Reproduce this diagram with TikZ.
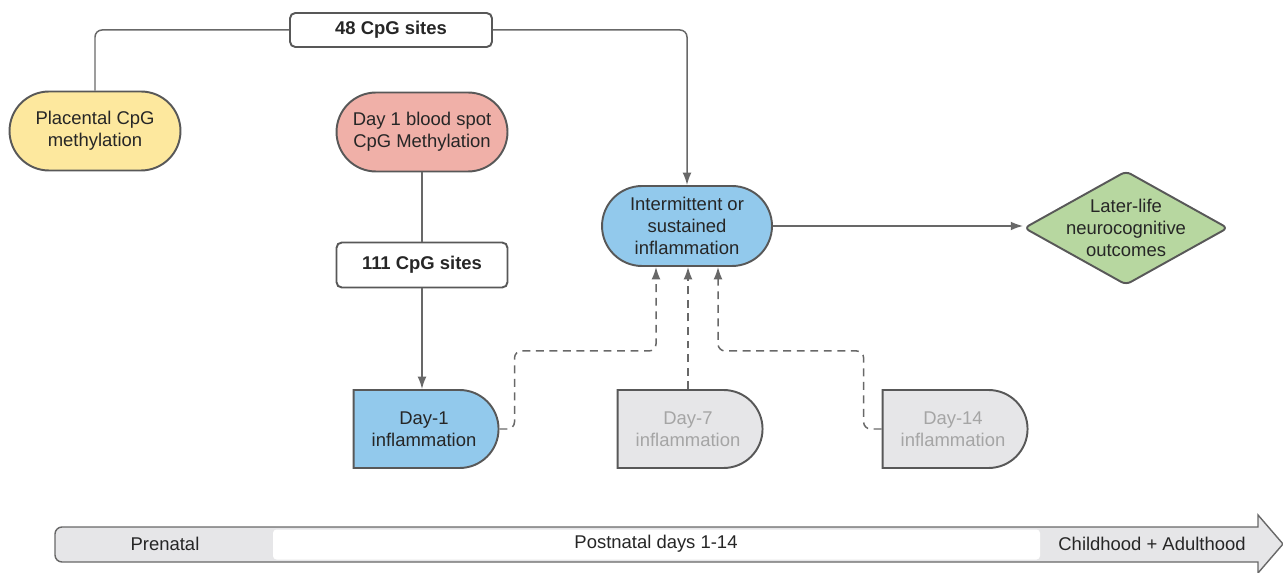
\documentclass[tikz,border=0pt]{standalone}
\usepackage{fontspec}
\setmainfont{Liberation Sans}
\usepackage{tikz}
\usetikzlibrary{arrows, arrows.meta, shapes, shapes.geometric, shapes.misc, positioning, calc}
\usepackage{xcolor}
\definecolor{edgegray}{RGB}{88,88,88}
\definecolor{linegray}{RGB}{104,104,104}
\definecolor{yellowfill}{RGB}{253,232,158}
\definecolor{pinkfill}{RGB}{240,176,168}
\definecolor{bluefill}{RGB}{146,201,236}
\definecolor{grayfill}{RGB}{230,230,232}
\definecolor{greenfill}{RGB}{183,215,160}
\definecolor{fadedtext}{RGB}{165,165,165}
\tikzset{
	stadium/.style={rounded rectangle, draw=edgegray, line width=1.1pt, align=center,
		minimum width=3.42cm, minimum height=1.58cm, inner sep=0pt, text=black!85},
	sitebox/.style={rectangle, rounded corners=3pt, draw=edgegray, line width=1.1pt,
		fill=white, minimum height=0.68cm, font=\bfseries, text=black!85},
	daybox/.style={rounded rectangle, rounded rectangle west arc=none, draw=edgegray,
		line width=1.1pt, align=center, minimum width=2.9cm, minimum height=1.56cm,
		inner sep=0pt, text=black!85},
	grayday/.style={daybox, fill=grayfill, text=fadedtext},
	outcome/.style={diamond, draw=edgegray, line width=1.1pt, fill=greenfill, align=center,
		aspect=1.79, minimum width=4.08cm, minimum height=2.28cm, inner sep=-4pt,
		rounded corners=3pt, text=black!85},
	era/.style={inner sep=0pt, text=black!85},
	line/.style={draw=linegray, line width=0.85pt, rounded corners=4pt, -{Latex[length=7pt,width=5pt]}},
	plain/.style={line, -},
	dashline/.style={line, dash pattern=on 4.5pt off 3.2pt}
}

\begin{document}
\fontsize{10.5}{12.5}\selectfont
\begin{tikzpicture}[x=0.02cm, y=-0.02cm]
	\useasboundingbox (0,0) rectangle (1283,573);

	% Methylation
	\node[stadium, fill=yellowfill] (placenta) at (95,131) {Placental CpG\\methylation};
	\node[stadium, fill=pinkfill] (bloodspot) at (422,132) {Day 1 blood spot\\CpG Methylation};
	\node[sitebox, minimum width=4.04cm] (sites48) at (391,30) {48 CpG sites};
	\node[sitebox, minimum width=3.42cm, minimum height=0.9cm] (sites111) at (422,265) {111 CpG sites};

	% Inflammation
	\node[stadium, fill=bluefill, minimum width=3.4cm, minimum height=1.6cm] (inflam) at (687,226)
		{Intermittent or\\sustained\\inflammation};
	\node[daybox, fill=bluefill] (day1) at (424,429) {Day-1\\inflammation};
	\node[grayday] (day7) at (688,429) {Day-7\\inflammation};
	\node[grayday] (day14) at (953,429) {Day-14\\inflammation};

	% Outcome
	\node[outcome] (later) at (1126,228) {Later-life\\neurocognitive\\outcomes};

	% Connections
	\draw[plain] (sites48.west) -| (placenta.north);
	\draw[line] (sites48.east) -| (inflam.north);
	\draw[plain] (bloodspot.south) -- (sites111.north);
	\draw[line] (sites111.south) -- (sites111.south |- day1.north);
	\draw[line] (inflam.east) -- (inflam.east -| later.west);
	\draw[dashline] (day1.east) -- ++(15,0) |- ($(inflam.south)+(-31,84)$) -- ($(inflam.south)+(-31,0)$);
	\draw[dashline] (day7.north) -- ++(0,-40) -- (day7.north |- inflam.south);
	\draw[dashline] (day14.west) -- ++(-18,0) |- ($(inflam.south)+(31,84)$) -- ($(inflam.south)+(31,0)$);

	% Timeline
	\filldraw[draw=linegray, line width=0.8pt, fill=grayfill]
		(700,527) {[rounded corners=4pt] -- (55,527) -- (55,562)} -- (1258,562) -- (1258,573)
		-- (1283,544) -- (1258,515) -- (1258,527) -- cycle;
	\fill[white, rounded corners=2pt] (273,529.5) rectangle (1040,559.5);
	\node[era] (prenatal) at (165,544) {Prenatal};
	\node[era] (postnatal) at (656,544) {Postnatal days 1-14};
	\node[era] (adult) at (1152,544) {Childhood + Adulthood};
\end{tikzpicture}
\end{document}
